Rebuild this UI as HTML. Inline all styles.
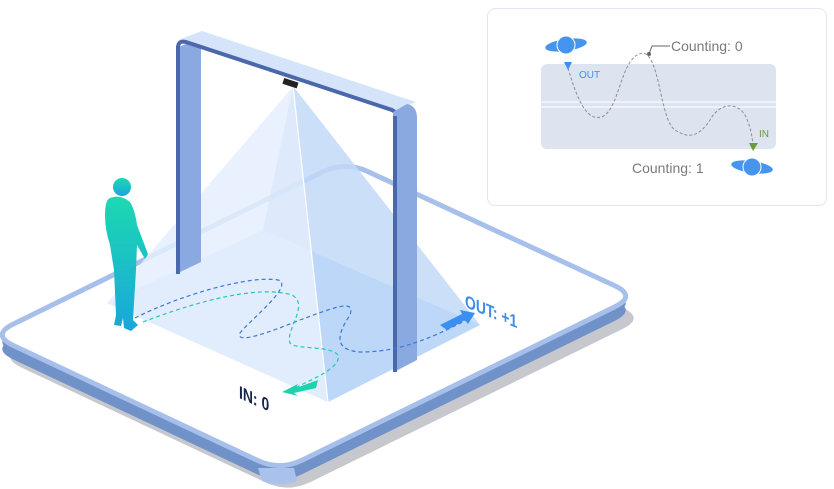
<!DOCTYPE html>
<html><head><meta charset="utf-8"><style>
html,body{margin:0;padding:0;background:#fff;}
svg{display:block;font-family:"Liberation Sans",sans-serif;}
</style></head><body>
<svg width="834" height="489" viewBox="0 0 834 489" xmlns="http://www.w3.org/2000/svg">
<defs>
<linearGradient id="pg" x1="0" y1="0" x2="0" y2="1">
<stop offset="0" stop-color="#1dd9b0"/><stop offset="1" stop-color="#19a6dc"/>
</linearGradient>
<path id="plat" d="M13.5,324 L322.5,172 Q345,161 367.7,171.5 L614.3,285.5 Q637,296 614.5,307 L302.5,460 Q280,471 257.4,460.4 L13.6,345.6 Q-9,335 13.5,324 Z"/>
</defs>
<!-- shadow -->
<use href="#plat" transform="translate(8,22)" fill="#c6c8cd"/>
<!-- side -->
<use href="#plat" transform="translate(0,14)" fill="#7092c8"/>
<use href="#plat" transform="translate(0,7)" fill="#7092c8"/>
<path d="M258,468 L262,481 Q280,488 297,481 L294,468 Z" fill="#a9c2ec"/>
<!-- top -->
<use href="#plat" fill="#fff" stroke="#a6bfeb" stroke-width="5"/>
<!-- floor -->
<polygon points="107,303 263,230 480,325 328,402" fill="#cfe3fb"/>
<!-- pyramid -->
<polygon points="293,86 107,303 328,402" fill="#e4effd" opacity="0.85"/>
<polygon points="293,86 328,402 480,325" fill="#b5d3f7" opacity="0.75"/>
<polygon points="293,86 263,230 480,325" fill="#cfe2fb" opacity="0.4"/>
<line x1="293" y1="86" x2="328" y2="402" stroke="#fff" stroke-width="1.2"/>
<line x1="293" y1="86" x2="150" y2="252" stroke="#fff" stroke-width="1"/>
<!-- left post -->
<polygon points="176,48 201,38 201,262 176,274" fill="#8aa9e1"/>
<rect x="176" y="46" width="4" height="228" fill="#4a68aa"/>
<!-- top bar -->
<polygon points="178,40 202,31 416,102 393,112" fill="#d5e4fb"/>
<path d="M178,48 Q178,40 186,42 L392,110 Q398,113 398,120" fill="none" stroke="#4a68aa" stroke-width="4"/>
<rect x="283" y="80" width="15" height="6" fill="#222" transform="rotate(18 290 83)"/>
<!-- right post -->
<path d="M393,112 L407,104 Q417,106 417,118 L417,360 L394,372 Z" fill="#8aa9e1"/>
<rect x="393" y="116" width="4" height="256" fill="#4a68aa"/>
<!-- paths -->
<path d="M135,318 C180,295 250,275 278,280 C295,285 250,320 240,333 C235,345 270,332 300,320 C340,305 355,300 350,315 C340,330 330,350 360,352 C390,352 420,345 470,318" fill="none" stroke="#3a78d8" stroke-width="1.2" stroke-dasharray="4,3"/>
<path d="M143,322 C200,300 260,285 292,295 C310,305 285,330 290,343 C295,350 330,345 338,355 C342,368 310,380 295,388" fill="none" stroke="#22c9b5" stroke-width="1.2" stroke-dasharray="4,3"/>
<!-- arrows -->
<polygon points="440,325 462,314 460,310 475,313 468,324 465,320 447,330" fill="#3b8ff0"/>
<polygon points="318,380 296,388 298,384 282,392 298,396 294,393 316,388" fill="#1dd3ae"/>
<!-- labels -->
<text font-size="17" font-weight="bold" fill="#3d8de8" transform="translate(465,307) skewY(22) scale(0.82,1.05)">OUT: +1</text>
<text font-size="17" font-weight="bold" fill="#15264a" transform="translate(239,398) skewY(24) scale(0.82,1.05)">IN: 0</text>
<!-- person -->
<g fill="url(#pg)">
<circle cx="122" cy="187" r="9"/>
<path d="M110,198 Q120,194 130,202 Q135,210 137,225 L148,254 L145,259 L137,245 L136,270 L133,320 L138,325 L131,331 L124,328 L123,318 L121,326 L114,325 L116,315 L114,270 L110,245 Q105,230 105,215 Q105,200 110,198 Z"/>
</g>
<!-- inset card -->
<rect x="487.5" y="8.5" width="339" height="197" rx="8" fill="#fff" stroke="#dfe7f2"/>
<rect x="541" y="64" width="235" height="85" rx="6" fill="#dde4ef"/>
<line x1="541" y1="102" x2="776" y2="102" stroke="#fff" stroke-width="1"/>
<line x1="541" y1="107" x2="776" y2="107" stroke="#fff" stroke-width="1"/>
<path d="M568,68 C580,110 590,120 601,117 C620,112 620,55 643,53 C660,55 660,120 675,130 C690,140 700,135 710,120 C718,105 735,100 745,115 C750,125 752,135 753,145" fill="none" stroke="#8a8f98" stroke-width="1" stroke-dasharray="3,2"/>
<circle cx="649" cy="54" r="2" fill="#666"/>
<polyline points="649,54 652,46 670,46" fill="none" stroke="#666" stroke-width="1"/>
<polygon points="564,62 572,62 568,70" fill="#3f8ff0"/>
<polygon points="749,143 758,143 753,151" fill="#6e9a3c"/>
<text x="579" y="78" font-size="10" fill="#3f8ff0">OUT</text>
<text x="759" y="137" font-size="10" fill="#6e9a3c">IN</text>
<text x="671" y="51" font-size="14" fill="#7a7a7a">Counting: 0</text>
<text x="632" y="173" font-size="14" fill="#7a7a7a">Counting: 1</text>
<ellipse cx="566" cy="45" rx="21" ry="6" fill="#4595ee" transform="rotate(-8 566 45)"/>
<circle cx="566" cy="45" r="9" fill="#4595ee" stroke="#fff" stroke-width="1"/>
<ellipse cx="752" cy="167" rx="21" ry="6" fill="#4595ee" transform="rotate(8 752 167)"/>
<circle cx="752" cy="167" r="9" fill="#4595ee" stroke="#fff" stroke-width="1"/>
</svg>
</body></html>
